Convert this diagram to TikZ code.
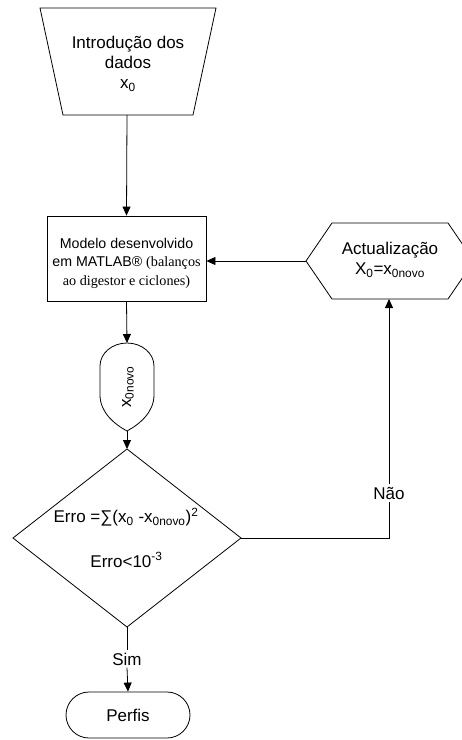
\documentclass[tikz,border=0pt]{standalone}
\usepackage{fontspec}
\setmainfont{Liberation Sans}
\newfontfamily\timesf{Liberation Serif}
\usetikzlibrary{arrows.meta,shapes.misc}
\begin{document}
\begin{tikzpicture}[x=1pt,y=-1pt,line width=0.8pt,
  big/.style={font=\fontsize{17}{20}\selectfont,inner sep=1pt,align=center},
  small/.style={font=\fontsize{14.2}{18.5}\selectfont,inner sep=1pt,align=center},
  arr/.style={-{Triangle[length=9pt,width=8pt]}},
  lbl/.style={font=\fontsize{17}{20}\selectfont,inner sep=2pt,fill=white}]
\useasboundingbox (0,0) rectangle (462,740);

% input trapezoid
\coordinate (inTL) at (40,8);
\coordinate (inTR) at (216,8);
\coordinate (inBR) at (193,115);
\coordinate (inBL) at (63,115);
\coordinate (inB) at (127,115);
\draw (inTL) -- (inTR) -- (inBR) -- (inBL) -- cycle;
\node[big] (in) at (128,64) {Introdução dos\\dados\\x\textsubscript{0}};

% model box
\node[draw,minimum width=159pt,minimum height=85pt,inner sep=0pt] (model) at (126.5,258.5) {};
\node[small] (modelt) at (126.5,263) {Modelo desenvolvido\\em MATLAB® {\timesf(balanços}\\{\timesf ao digestor e ciclones)}};

% update hexagon (cut at the right border)
\coordinate (hexW) at (306,261);
\coordinate (hexS) at (389,299);
\begin{scope}
\clip (0,0) rectangle (462,740);
\draw (hexW) -- (332,223) -- (448,223) -- (474,261) -- (448,299) -- (332,299) -- cycle;
\end{scope}
\node[big] (hex) at (390,260) {Actualização\\X\textsubscript{0}=x\textsubscript{0novo}};

% display shape
\coordinate (dispT) at (127,343);
\coordinate (dispB) at (127,431);
\draw (100,395) -- (100,366) arc[start angle=180,end angle=360,x radius=27,y radius=23]
  -- (154,395) .. controls (154,412) and (140,424) .. (dispB)
  .. controls (114,424) and (100,412) .. (100,395);
\node[big,rotate=90] (xn) at (128,387) {x\textsubscript{0novo}};

% decision diamond
\coordinate (dT) at (127,449);
\coordinate (dR) at (241,538);
\coordinate (dB) at (127,627);
\coordinate (dL) at (13,538);
\draw (dT) -- (dR) -- (dB) -- (dL) -- cycle;
\node[big] (err1) at (126,517) {Erro =∑(x\textsubscript{0} -x\textsubscript{0novo})\textsuperscript{2}};
\node[big] (err2) at (126.5,560) {Erro<10\textsuperscript{-3}};

% terminal
\node[draw,rounded rectangle,minimum width=126pt,minimum height=46pt,big] (perfis) at (128,715) {Perfis};

% labels
\node[lbl] (sim) at (127,659) {Sim};
\node[lbl] (nao) at (389,493) {Não};

% connectors
\draw[arr] (inB) -- (model.north);
\draw[arr] (model.south) -- (dispT);
\draw[arr] (dispB) -- (dT);
\draw (dB) -- (sim.north);
\draw[arr] (sim.south) -- (perfis.north);
\draw (dR) -| (nao.south);
\draw[arr] (nao.north) -- (hexS);
\draw[arr] (hexW) -- (model.east |- hexW);
\end{tikzpicture}
\end{document}
